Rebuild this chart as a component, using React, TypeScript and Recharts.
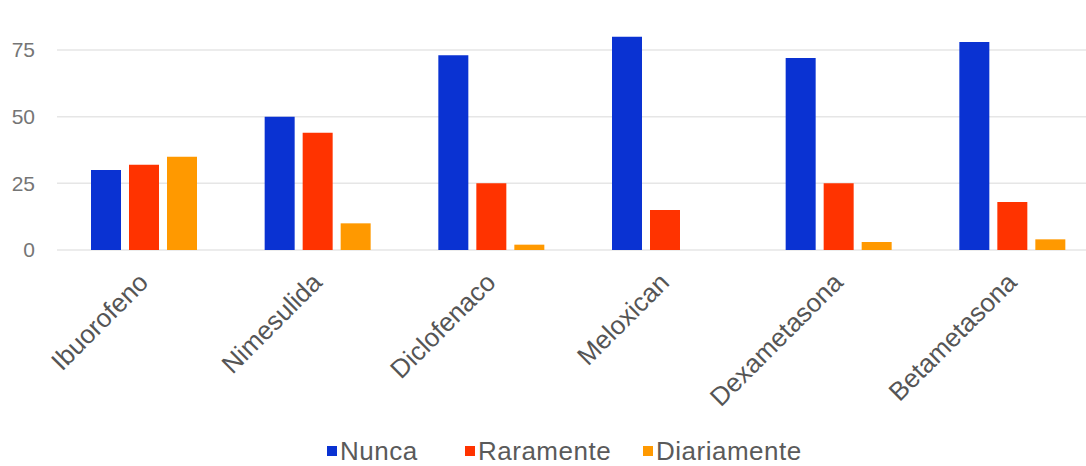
import React from 'react';
import { BarChart, Bar, XAxis, YAxis, CartesianGrid, Legend } from 'recharts';

const categories = ['Ibuorofeno', 'Nimesulida', 'Diclofenaco', 'Meloxican', 'Dexametasona', 'Betametasona'];
const nunca = [30, 50, 73, 80, 72, 78];
const raramente = [32, 44, 25, 15, 25, 18];
const diariamente = [35, 10, 2, 0, 3, 4];
const yTicks = [0, 25, 50, 75];
const Y_MAX = 90;

const seriesNames = ['Nunca', 'Raramente', 'Diariamente'];
const seriesColors = ['#0a32d2', '#ff3300', '#ff9900'];

const data = categories.map((c, i) => ({
  name: c,
  Nunca: nunca[i],
  Raramente: raramente[i],
  Diariamente: diariamente[i],
}));

const FONT = '"Liberation Sans", Arial, sans-serif';
const legendLefts = [327, 465, 643];

const XTick = (props: any) => {
  const { x, y, payload } = props;
  return (
    <g transform={`translate(${x + 6},${y + 34})`}>
      <text x={0} y={0} transform="rotate(-45)" textAnchor="end" fill="#555" fontSize={26} fontFamily={FONT}>
        {payload.value}
      </text>
    </g>
  );
};

const LegendContent = () => (
  <div style={{ position: 'relative', width: 1086, height: 30, fontFamily: FONT }}>
    {seriesNames.map((n, i) => (
      <div
        key={n}
        style={{
          position: 'absolute',
          left: legendLefts[i],
          top: 0,
          height: 30,
          display: 'flex',
          alignItems: 'center',
          whiteSpace: 'nowrap',
        }}
      >
        <span style={{ display: 'inline-block', width: 10, height: 10, background: seriesColors[i], marginRight: 3 }} />
        <span style={{ fontSize: 26, letterSpacing: 0.5, color: '#5a5a5a', lineHeight: '30px' }}>{n}</span>
      </div>
    ))}
  </div>
);

export default function App() {
  return (
    <div style={{ position: 'fixed', left: 0, top: 0, width: 1086, height: 466, overflow: 'hidden', background: '#fff' }}>
      <BarChart
        width={1099}
        height={466}
        data={data}
        margin={{ top: 10, right: 0, bottom: 0, left: 0 }}
        barSize={30}
        barGap={8}
      >
        <CartesianGrid
          horizontal
          vertical={false}
          stroke="#e6e6e6"
          strokeWidth={1.5}
          horizontalCoordinatesGenerator={({ offset }: any) =>
            yTicks.map((t) => offset.top + offset.height * (1 - t / Y_MAX))
          }
        />
        <XAxis
          dataKey="name"
          axisLine={false}
          tickLine={false}
          tickSize={0}
          tickMargin={0}
          height={186}
          interval={0}
          tick={<XTick />}
        />
        <YAxis
          domain={[0, Y_MAX]}
          ticks={yTicks}
          axisLine={false}
          tickLine={false}
          tickSize={0}
          tickMargin={22}
          width={57}
          tick={{ fill: '#757575', fontSize: 21, fontFamily: FONT }}
        />
        <Legend verticalAlign="bottom" height={30} content={<LegendContent />} wrapperStyle={{ left: 0, width: 1086 }} />
        {seriesNames.map((n, i) => (
          <Bar key={n} dataKey={n} fill={seriesColors[i]} isAnimationActive={false} />
        ))}
      </BarChart>
    </div>
  );
}
